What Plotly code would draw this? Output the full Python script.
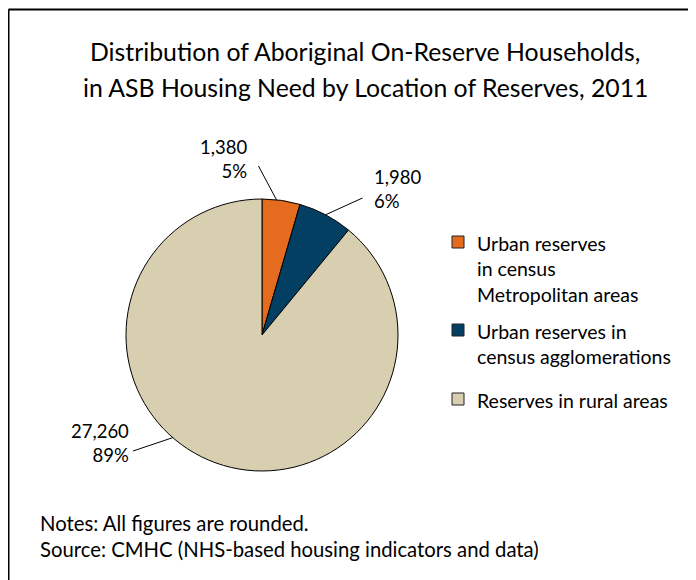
import math
import plotly.graph_objects as go

# ---- data ----
categories = ["Urban reserves in census Metropolitan areas",
              "Urban reserves in census agglomerations",
              "Reserves in rural areas"]
legend_labels = ["Urban reserves<br>in census<br>Metropolitan areas",
                 "Urban reserves in<br>census agglomerations",
                 "Reserves in rural areas"]
households = [1380, 1980, 27260]
count_labels = ["1,380", "1,980", "27,260"]
pct_labels = ["5%", "6%", "89%"]
colors = ["#E56B1F", "#023F62", "#D8CEB0"]

title_lines = ["Distribution of Aboriginal On-Reserve Households,",
               "in ASB Housing Need by Location of Reserves, 2011"]
notes = ["Notes: All figures are rounded.",
         "Source: CMHC (NHS-based housing indicators and data)"]

W, H = 696, 580
OFF = 8  # page body margin
FW, FH = W - OFF, H - OFF
FONT = "Lato"

def px(x):
    return (x - OFF) / FW

def py(y):
    return 1 - (y - OFF) / FH

# pie geometry (pixels, in window coordinates)
CX, CY, R = 262, 335, 136

fig = go.Figure()
fig.add_trace(go.Pie(
    labels=categories,
    values=households,
    sort=False,
    direction="clockwise",
    rotation=0,
    marker=dict(colors=colors, line=dict(color="#000000", width=1)),
    textinfo="none",
    hoverinfo="label+value+percent",
    showlegend=False,
    domain=dict(x=[px(CX - R), px(CX + R)], y=[py(CY + R), py(CY - R)]),
))

annotations = []
shapes = []

# title
for i, t in enumerate(title_lines):
    annotations.append(dict(x=px(365), y=py(52 + 35 * i), xref="paper", yref="paper",
                            text=t, showarrow=False, xanchor="center", yanchor="middle",
                            font=dict(family=FONT, size=24.8, color="#000")))

# leader lines and labels
total = sum(households)
cum = 0
mids = []
for v in households:
    mids.append((cum + v / 2) / total * 360)
    cum += v
anchor_angles = [mids[0] - 2, mids[1], 221]
tails = [(258.5, 166), (362.5, 198), (133, 451)]
label_pos = [(249, 159, "right"), (372, 189, "left"), (131, 443, "right")]
for i in range(3):
    a = math.radians(anchor_angles[i])
    ex, ey = CX + R * math.sin(a), CY - R * math.cos(a)
    tx, ty = tails[i]
    shapes.append(dict(type="line", xref="paper", yref="paper",
                       x0=px(tx), y0=py(ty), x1=px(ex), y1=py(ey),
                       line=dict(color="#000", width=1)))
    lx, ly, al = label_pos[i]
    annotations.append(dict(x=px(lx), y=py(ly), xref="paper", yref="paper",
                            text=count_labels[i] + "<br>" + pct_labels[i],
                            showarrow=False, align=al,
                            xanchor="right" if al == "right" else "left",
                            yanchor="middle",
                            font=dict(family=FONT, size=18.5, color="#000")))

# manual legend
leg_y = [242, 330, 399]
for i in range(3):
    shapes.append(dict(type="rect", xref="paper", yref="paper",
                       x0=px(452), x1=px(464), y0=py(leg_y[i] + 6), y1=py(leg_y[i] - 6),
                       fillcolor=colors[i], line=dict(color="#222", width=1)))
    annotations.append(dict(x=px(475), y=py(leg_y[i] - 12.5), xref="paper", yref="paper",
                            text=legend_labels[i], showarrow=False, align="left",
                            xanchor="left", yanchor="top",
                            font=dict(family=FONT, size=19.5, color="#000")))

# notes
for i, t in enumerate(notes):
    annotations.append(dict(x=px(38), y=py(523 + 26 * i), xref="paper", yref="paper",
                            text=t, showarrow=False, xanchor="left", yanchor="middle",
                            font=dict(family=FONT, size=20.3, color="#000")))

# frame (top and left edges)
shapes.append(dict(type="line", xref="paper", yref="paper",
                   x0=px(8.5), x1=1.01, y0=py(9.5), y1=py(9.5), line=dict(color="#000", width=2)))
shapes.append(dict(type="line", xref="paper", yref="paper",
                   x0=px(8.5), x1=px(8.5), y0=py(9.5), y1=-0.01, line=dict(color="#000", width=2)))

fig.update_layout(
    width=FW, height=FH,
    margin=dict(l=0, r=0, t=0, b=0),
    paper_bgcolor="#FFFFFF",
    plot_bgcolor="#FFFFFF",
    annotations=annotations,
    shapes=shapes,
    font=dict(family=FONT, color="#000"),
)

fig.write_html("out.html")
